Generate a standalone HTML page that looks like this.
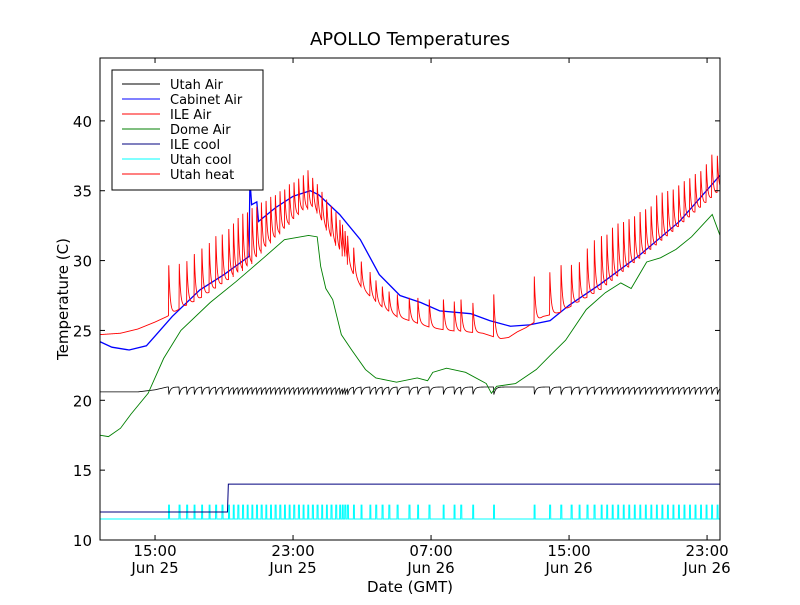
<!DOCTYPE html>
<html><head><meta charset="utf-8"><style>
body{margin:0;background:#fff;}
svg text{font-family:"DejaVu Sans","Liberation Sans",sans-serif;}
</style></head><body>
<svg id="chart" width="800" height="600" xmlns="http://www.w3.org/2000/svg">
<rect width="800" height="600" fill="#fff"/>
<text x="410" y="45" font-size="18" text-anchor="middle">APOLLO Temperatures</text>
<text x="410" y="592" font-size="15" text-anchor="middle">Date (GMT)</text>
<text transform="translate(68,299) rotate(-90)" font-size="15" text-anchor="middle">Temperature (C)</text>
<g id="series"></g>
<g id="axes"></g>
<g id="legend"></g>
</svg>
<script>
// ---- data (hours since Jun 25 00:00 GMT) ----
const xTickHours = [15, 23, 31, 39, 47];
const xTickTimes = ["15:00", "23:00", "07:00", "15:00", "23:00"];
const xTickDates = ["Jun 25", "Jun 25", "Jun 26", "Jun 26", "Jun 26"];
const yTicks = [10, 15, 20, 25, 30, 35, 40];

const cycleTimes = [15.78,16.39,16.83,17.26,17.70,18.13,18.51,18.88,19.26,19.53,19.80,20.07,20.34,20.61,20.88,21.15,21.42,21.69,21.96,22.23,22.50,22.77,23.04,23.31,23.58,23.85,24.12,24.39,24.66,24.93,25.20,25.47,25.70,25.85,26.00,26.15,26.50,26.94,27.45,27.79,28.16,28.55,29.03,29.72,30.22,30.88,31.70,32.33,32.72,33.41,34.62,36.97,37.87,38.52,39.12,39.58,40.04,40.45,40.86,41.18,41.50,41.82,42.14,42.46,42.78,43.10,43.42,43.74,44.06,44.38,44.70,45.02,45.34,45.66,45.98,46.30,46.62,46.94,47.26,47.58];
const ilePeaks = [29.8,29.8,30.0,30.6,31.0,31.3,31.8,32.0,32.4,32.7,33.2,33.4,33.6,33.8,34.0,34.2,34.4,34.6,34.8,35.0,35.2,35.5,35.7,35.9,36.2,36.5,36.0,35.5,35.0,34.4,34.0,33.5,33.0,32.6,32.2,31.8,31.0,30.0,29.2,28.6,28.2,27.8,27.6,27.4,27.4,27.3,27.3,27.1,27.3,27.0,27.7,28.9,29.2,29.8,29.8,30.0,31.0,31.5,31.9,32.0,32.5,32.8,32.9,33.1,33.3,33.6,33.8,34.0,34.8,35.0,35.1,35.2,35.5,35.8,36.0,36.3,36.5,37.0,37.7,37.6];

const ileBaseT = [11.8,13,14,15,15.7,16.5,17.5,18.5,19.5,20.5,21.5,22.5,23.5,24.2,25,26,27,28,29,30,31,32,33,34,35,35.5,36,36.5,37.5,38.5,39.5,41,43,45,47.75];
const ileBaseV = [24.7,24.8,25.1,25.6,26.0,26.6,27.2,28.0,28.8,29.6,31.0,32.2,33.5,33.8,32.0,30.0,28.0,26.8,26.0,25.6,25.2,25.0,24.9,24.8,24.4,24.5,24.9,25.2,26.0,26.3,27.0,28.0,30.0,32.0,35.0];

const cabT = [11.8,12.5,13.5,14.5,15,16,17.6,19,20.45,20.5,20.6,20.9,21.0,21.3,22,23,24,24.5,25.7,26.9,28,29.2,30.4,31.5,33.3,34.4,35.6,36.7,37.9,39,40.8,43.1,45.4,47.75];
const cabV = [24.2,23.8,23.6,23.9,24.6,26.0,27.9,29.0,30.3,35.8,34.0,34.2,32.8,33.1,33.8,34.6,35.0,34.7,33.3,31.5,29.0,27.5,27.0,26.4,26.2,25.7,25.3,25.4,25.7,26.8,28.3,30.4,32.8,36.1];

const domeT = [11.8,12.3,13.0,13.6,14.6,15.5,16.5,18.2,19.7,21.3,22.5,23.9,24.4,24.6,24.9,25.3,25.8,26.4,27.2,27.8,29,30.2,30.8,31.1,31.9,33.0,34.2,34.5,34.8,35.9,37.1,37.9,38.8,40.0,41.1,42.0,42.6,43.5,44.3,45.2,46.1,47.0,47.3,47.75];
const domeV = [17.5,17.4,18.0,19.0,20.5,23.0,25.0,27.0,28.5,30.2,31.5,31.8,31.7,29.6,28.0,27.2,24.7,23.6,22.2,21.6,21.3,21.6,21.4,22.0,22.3,22.0,21.2,20.5,21.0,21.2,22.2,23.2,24.3,26.5,27.7,28.4,28.0,29.9,30.2,30.8,31.7,32.9,33.3,31.8];

const utahAirT = [11.8,14.0,15.0,15.7];
const utahAirV = [20.6,20.6,20.75,20.95];
const ileCoolT = [11.8,19.2,19.25,47.75];
const ileCoolV = [12.0,12.0,14.0,14.0];
const utahCoolBase = 11.5, utahCoolOn = 12.5;

// ---- axes ----
const X0=100,X1=720,Y0=540,Y1=58, T0=11.81, T1=47.75, V0=10, V1=44.5;
const xs=t=>X0+(t-T0)/(T1-T0)*(X1-X0);
const ys=v=>Y0-(v-V0)/(V1-V0)*(Y0-Y1);
const NS="http://www.w3.org/2000/svg";
function interp(T,V,t){if(t<=T[0])return V[0];for(let i=1;i<T.length;i++){if(t<=T[i]){const f=(t-T[i-1])/(T[i]-T[i-1]);return V[i-1]+f*(V[i]-V[i-1]);}}return V[V.length-1];}
function lastCycle(t){let k=-1;for(let i=0;i<cycleTimes.length;i++){if(cycleTimes[i]<=t)k=i;else break;}return k;}
function pathFrom(pts){return pts.map((p,i)=>(i?'L':'M')+p[0].toFixed(2)+' '+p[1].toFixed(2)).join('');}
const g=document.getElementById('series');
function addPath(d,color,name,w){const p=document.createElementNS(NS,'path');p.setAttribute('d',d);p.setAttribute('fill','none');p.setAttribute('stroke',color);p.setAttribute('stroke-width',w||1);


g.appendChild(p);}
const step=0.008;
// Utah cool
{let pts=[];for(let t=T0;t<=T1;t+=step){const k=lastCycle(t);const on=k>=0&&(t-cycleTimes[k])<0.06;pts.push([xs(t),ys(on?utahCoolOn:utahCoolBase)]);}addPath(pathFrom(pts),'#00ffff','utah-cool-line');}
// ILE cool
addPath(pathFrom(ileCoolT.map((t,i)=>[xs(t),ys(ileCoolV[i])])),'#00007f','ile-cool-line');
// Utah Air
{let pts=[];for(let t=T0;t<=T1;t+=step){const k=lastCycle(t);let v;if(k<0)v=interp(utahAirT,utahAirV,t);else{const dt=t-cycleTimes[k];v=dt<0.02?20.95-0.55*dt/0.02:20.4+0.55*(1-Math.exp(-(dt-0.02)/0.1));}pts.push([xs(t),ys(v)]);}addPath(pathFrom(pts),'#000000','utah-air-line',0.8);}
// Dome Air
addPath(pathFrom(domeT.map((t,i)=>[xs(t),ys(domeV[i])])),'#007f00','dome-air-line',0.9);
// Cabinet Air
addPath(pathFrom(cabT.map((t,i)=>[xs(t),ys(cabV[i])])),'#0000ff','cabinet-air-line',1.3);
// ILE Air
{let pts=[];for(let t=T0;t<=T1;t+=step/2){const k=lastCycle(t);const b=interp(ileBaseT,ileBaseV,t);let v=b;if(k>=0){const dt=t-cycleTimes[k];const pk=ilePeaks[k];v=dt<0.015?b+(pk-b)*dt/0.015:b+(pk-b)*Math.exp(-(dt-0.015)/0.08);}pts.push([xs(t),ys(v)]);}addPath(pathFrom(pts),'#ff0000','ile-air-line',0.9);}

// axes frame & ticks
const a=document.getElementById('axes');
function el(tag,attrs,name,txt){const e=document.createElementNS(NS,tag);for(const k in attrs)e.setAttribute(k,attrs[k]);


if(txt!==undefined)e.textContent=txt;a.appendChild(e);return e;}
el('rect',{x:X0,y:Y1,width:X1-X0,height:Y0-Y1,fill:'none',stroke:'#000','stroke-width':1},'plot-frame');
yTicks.forEach(v=>{const y=ys(v);
el('line',{x1:X0,x2:X0+5,y1:y,y2:y,stroke:'#000'},'y-tick');
el('line',{x1:X1-5,x2:X1,y1:y,y2:y,stroke:'#000'},'y-tick-right');
el('text',{x:X0-8,y:y+6,'font-size':15,'text-anchor':'end'},'y-tick-label',String(v));});
xTickHours.forEach((h,i)=>{const x=xs(h);
el('line',{x1:x,x2:x,y1:Y0,y2:Y0-5,stroke:'#000'},'x-tick');
el('line',{x1:x,x2:x,y1:Y1,y2:Y1+5,stroke:'#000'},'x-tick-top');
el('text',{x:x,y:556,'font-size':15,'text-anchor':'middle'},'x-tick-time',xTickTimes[i]);
el('text',{x:x,y:573,'font-size':15,'text-anchor':'middle'},'x-tick-date',xTickDates[i]);});

// legend
const legNames=["Utah Air","Cabinet Air","ILE Air","Dome Air","ILE cool","Utah cool","Utah heat"];
const legColors=["#000000","#0000ff","#ff0000","#007f00","#00007f","#00ffff","#ff0000"];
const L=document.getElementById('legend');
const box=document.createElementNS(NS,'rect');
box.setAttribute('x',112);box.setAttribute('y',70);box.setAttribute('width',151);box.setAttribute('height',120);box.setAttribute('fill','#fff');box.setAttribute('stroke','#000');


L.appendChild(box);
legNames.forEach((n,i)=>{const y=84+i*15;
const ln=document.createElementNS(NS,'line');ln.setAttribute('x1',122);ln.setAttribute('x2',160);ln.setAttribute('y1',y);ln.setAttribute('y2',y);ln.setAttribute('stroke',legColors[i]);


L.appendChild(ln);
const tx=document.createElementNS(NS,'text');tx.setAttribute('x',170);tx.setAttribute('y',y+5);tx.setAttribute('font-size',13);tx.textContent=n;


L.appendChild(tx);});
</script>
</body></html>
